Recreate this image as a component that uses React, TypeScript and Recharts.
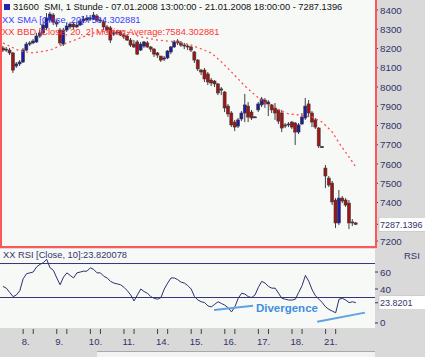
import React from 'react';
import {
  ComposedChart, Bar, Line, XAxis, YAxis, CartesianGrid, ReferenceLine, ReferenceDot,
} from 'recharts';

// SMI hourly bars, 07.01.2008 13:00 - 21.01.2008 18:00
const days = ['7.', '8.', '9.', '10.', '11.', '14.', '15.', '16.', '17.', '18.', '21.'];
const barsPerDay = [6, 10, 10, 10, 10, 10, 10, 10, 10, 10, 10];

const opens = [
  8203, 8192, 8192, 8177, 8109, 8120, 8130, 8192, 8223, 8229,
  8234, 8265, 8281, 8307, 8348, 8374, 8338, 8296, 8223, 8296,
  8312, 8327, 8312, 8322, 8343, 8348, 8353, 8353, 8369, 8348,
  8338, 8312, 8307, 8275, 8281, 8286, 8270, 8265, 8244, 8223,
  8234, 8192, 8213, 8229, 8208, 8197, 8177, 8161, 8145, 8151,
  8182, 8208, 8239, 8229, 8218, 8213, 8208, 8182, 8140, 8088,
  8088, 8068, 8036, 8031, 8016, 7984, 7974, 7901, 7865, 7818,
  7797, 7834, 7865, 7901, 7870, 7844, 7881, 7907, 7932, 7912,
  7907, 7891, 7881, 7865, 7803, 7803, 7818, 7813, 7766, 7808,
  7839, 7912, 7865, 7829, 7787, 7688, 7579, 7527, 7501, 7413,
  7294, 7423, 7413, 7397, 7299, 7294,
];
const highs = [
  8213, 8208, 8203, 8182, 8130, 8140, 8203, 8234, 8239, 8249,
  8281, 8296, 8338, 8384, 8390, 8384, 8348, 8307, 8307, 8333,
  8338, 8338, 8338, 8353, 8369, 8374, 8374, 8390, 8379, 8358,
  8348, 8322, 8317, 8296, 8296, 8296, 8281, 8275, 8255, 8244,
  8244, 8234, 8239, 8239, 8213, 8203, 8182, 8161, 8161, 8192,
  8213, 8244, 8249, 8239, 8229, 8223, 8213, 8187, 8145, 8094,
  8099, 8078, 8047, 8036, 8021, 8000, 7979, 7912, 7875, 7829,
  7839, 7875, 7964, 7922, 7881, 7849, 7922, 7948, 7943, 7932,
  7912, 7917, 7886, 7881, 7813, 7818, 7823, 7818, 7813, 7865,
  7943, 7932, 7875, 7839, 7792, 7694, 7595, 7538, 7512, 7423,
  7465, 7434, 7423, 7413, 7314, 7299,
];
const lows = [
  8182, 8182, 8166, 8073, 8099, 8109, 8125, 8187, 8213, 8223,
  8229, 8255, 8270, 8296, 8338, 8322, 8312, 8218, 8213, 8286,
  8301, 8301, 8307, 8317, 8333, 8338, 8343, 8348, 8338, 8333,
  8296, 8281, 8229, 8265, 8270, 8265, 8249, 8239, 8208, 8203,
  8166, 8187, 8203, 8203, 8182, 8156, 8151, 8130, 8135, 8145,
  8171, 8203, 8218, 8208, 8197, 8192, 8182, 8125, 8083, 8062,
  8026, 8010, 8005, 8000, 7958, 7958, 7870, 7844, 7792, 7771,
  7787, 7823, 7818, 7818, 7829, 7839, 7870, 7896, 7891, 7849,
  7865, 7829, 7808, 7766, 7787, 7792, 7782, 7699, 7756, 7803,
  7829, 7844, 7792, 7782, 7683, 7683, 7475, 7481, 7387, 7268,
  7283, 7397, 7377, 7262, 7278, 7283,
];
const closes = [
  8192, 8197, 8177, 8088, 8120, 8130, 8192, 8223, 8229, 8239,
  8265, 8281, 8322, 8358, 8379, 8338, 8327, 8229, 8296, 8317,
  8327, 8312, 8322, 8343, 8353, 8358, 8358, 8374, 8348, 8343,
  8312, 8296, 8244, 8281, 8286, 8270, 8260, 8244, 8218, 8208,
  8171, 8223, 8234, 8208, 8197, 8171, 8166, 8140, 8151, 8187,
  8208, 8234, 8229, 8218, 8213, 8208, 8192, 8140, 8094, 8078,
  8042, 8026, 8021, 8016, 7969, 7990, 7891, 7860, 7803, 7792,
  7829, 7865, 7907, 7844, 7839, 7845, 7912, 7938, 7912, 7922,
  7881, 7865, 7823, 7787, 7797, 7808, 7792, 7766, 7803, 7844,
  7901, 7865, 7818, 7792, 7694, 7690, 7538, 7491, 7403, 7294,
  7423, 7408, 7387, 7294, 7294, 7287.1396,
];
const rsi = [
  43, 41, 36, 31, 33, 38, 52, 58, 59, 60,
  66, 69, 71, 75, 65, 62, 53, 45, 54, 59,
  56, 53, 59, 60, 61, 61, 65, 63, 59, 59,
  55, 53, 49, 47, 46, 45, 42, 38, 33, 26,
  33, 40, 37, 35, 31, 29, 28, 30, 40, 47,
  53, 53, 51, 48, 47, 44, 40, 31, 27, 25,
  24, 20, 19, 22, 25, 23, 21, 18, 13, 19,
  29, 35, 34, 31, 30, 33, 42, 49, 47, 43,
  41, 41, 35, 29, 28, 27, 27, 28, 36, 44,
  56, 49, 39, 32, 28, 24, 19, 16, 14, 12,
  28, 29, 27, 24, 25, 23.820078,
];

// 20-bar moving average (BBD middle band), read at these bars
const maIdx = [0, 5, 9, 14, 19, 23, 27, 32, 36, 41, 46, 52, 56, 62, 65, 68, 72, 75, 78, 82, 85, 88, 92, 95, 98, 100, 103, 105];
const maVals = [8229, 8187, 8177, 8192, 8229, 8255, 8281, 8296, 8291, 8260, 8244, 8234, 8218, 8177, 8130, 8078, 8005, 7958, 7917, 7881, 7860, 7855, 7844, 7818, 7766, 7709, 7636, 7584.302881];

const priceTicks = [7200, 7400, 7500, 7600, 7700, 7800, 7900, 8000, 8100, 8200, 8300, 8400];
const rsiTicks = [0, 40, 60];
const rsiLevels = [70, 30];
const divergence = [
  [{ x: 62.8, y: 15.3 }, { x: 74.4, y: 20.4 }],
  [{ x: 93.5, y: 1.5 }, { x: 107.7, y: 12.2 }],
];

const lastClose = closes[closes.length - 1];
const lastRsi = rsi[rsi.length - 1];

const bars = opens.map((o, i) => ({ i, open: o, high: highs[i], low: lows[i], close: closes[i], rsi: rsi[i] }));
const maRows = maIdx.map((i, k) => ({ i, ma: maVals[k] }));

// first bar of each session; tick marks at 9:00 and 12:00
const dayStarts = barsPerDay.map((_, d) => barsPerDay.slice(0, d).reduce((a, b) => a + b, 0));
const timeTicks = dayStarts.slice(1).flatMap((s) => [s, s + 3]);
const dayLabelAt = new Map(dayStarts.map((s, d) => [s, days[d]]));

const xDomain = [-0.89, 110.7];
const font = "'Liberation Sans', Arial, sans-serif";
const navy = '#33336b';
const plotBg = '#f7f9f6';

const Candle = (props: any) => {
  const { x, y, width, height, payload } = props;
  if (!payload) return null;
  const { open, close, high, low } = payload;
  const top = height < 0 ? y + height : y;
  const h = Math.abs(height);
  const span = high - low || 1;
  const py = (v: number) => top + ((high - v) / span) * h;
  const b1 = py(Math.max(open, close));
  const b2 = py(Math.min(open, close));
  const cx = x + width / 2;
  const up = close > open;
  return (
    <g>
      <line x1={cx} x2={cx} y1={top} y2={top + h} stroke="#404040" strokeWidth={1} />
      <rect x={x} y={b1} width={width} height={Math.max(b2 - b1, 1)}
        fill={up ? '#1c1ca6' : '#a31313'} stroke="#3a3a3a" strokeWidth={0.6} />
    </g>
  );
};

const ValueBox = ({ x, y, label }: { x: number; y: number; label: string }) => (
  <g>
    <rect x={x - 1} y={y - 7} width={60} height={14} fill="#ffffff" stroke="#b8b8b8" strokeWidth={0.5} />
    <text x={x} y={y} dy={3.3} fontSize={9} fontFamily={font} fill={navy}>{label}</text>
  </g>
);

const PriceTick = (props: any) => {
  const { x, y, payload } = props;
  const v = payload.value;
  if (v === lastClose) return <ValueBox x={x} y={y} label={v.toFixed(4)} />;
  return <text x={x} y={y} dy={3.5} fontSize={9.8} fontFamily={font} fill={navy}>{v}</text>;
};

const RsiTick = (props: any) => {
  const { x, y, payload } = props;
  const v = payload.value;
  if (v === lastRsi) return <ValueBox x={x} y={y} label={v.toFixed(4)} />;
  return <text x={x} y={y} dy={3.5} fontSize={9.8} fontFamily={font} fill={navy}>{v}</text>;
};

const TimeTick = (props: any) => {
  const { x, y, payload } = props;
  const label = dayLabelAt.get(payload.value);
  return (
    <g>
      <line x1={x} x2={x} y1={y + 1} y2={y + 6} stroke="#404040" />
      {label && (
        <text x={x - 1.5} y={y + 17} fontSize={9.5} fontFamily={font} fill={navy}>{label}</text>
      )}
    </g>
  );
};

const txt = (color: string): React.CSSProperties => ({
  position: 'absolute', fontFamily: font, fontSize: 9.3, lineHeight: '11px', color, whiteSpace: 'nowrap',
});

export default function App() {
  return (
    <div style={{ position: 'absolute', left: 0, top: 0, width: 425, height: 357, overflow: 'hidden', background: '#d9d9d9' }}>
      <div style={{ position: 'absolute', left: 0, top: 0 }}>
        <ComposedChart width={425} height={247} data={bars} margin={{ top: 0, right: 0, bottom: 0, left: 0 }}>
          <CartesianGrid fill={plotBg} horizontal={false} vertical={false} />
          <XAxis type="number" dataKey="i" domain={xDomain} hide allowDataOverflow />
          <YAxis orientation="right" width={50} domain={[7169, 8452]} allowDataOverflow
            ticks={[...priceTicks, lastClose]} interval={0} tick={PriceTick}
            tickSize={3} tickMargin={2} tickLine={{ stroke: navy }} axisLine={false} />
          <Bar dataKey={(d: any) => [d.low, d.high]} barSize={3} shape={Candle} isAnimationActive={false} />
          <Line data={maRows} dataKey="ma" stroke="#ff4f4f" strokeWidth={1.3} strokeDasharray="2 3"
            dot={false} isAnimationActive={false} />
        </ComposedChart>
      </div>
      <div style={{ position: 'absolute', left: 0, top: 0, width: 377, height: 248, boxSizing: 'border-box',
        borderLeft: '2px solid #ff5757', borderRight: '2px solid #ff5757', borderBottom: '2px solid #ff5757' }} />
      <div style={{ position: 'absolute', left: 4, top: 4, width: 6, height: 6, background: '#2424a8' }} />
      <div style={{ ...txt('#111'), left: 13, top: 2 }}>
        31600&nbsp; SMI, 1 Stunde - 07.01.2008 13:00:00 - 21.01.2008 18:00:00 - 7287.1396
      </div>
      <div style={{ ...txt('#3a3aff'), left: 2, top: 15 }}>XX SMA [Close, 20]:7584.302881</div>
      <div style={{ ...txt('#ff3434'), left: 2, top: 27 }}>XX BBD [Close, 20, 2] Moving Average:7584.302881</div>

      <div style={{ position: 'absolute', left: 0, top: 249 }}>
        <ComposedChart width={425} height={99} data={bars} margin={{ top: 0, right: 0, bottom: 0, left: 0 }}>
          <CartesianGrid fill={plotBg} horizontal={false} vertical={false} />
          <XAxis type="number" dataKey="i" domain={xDomain} allowDataOverflow height={20}
            ticks={timeTicks} interval={0} tick={TimeTick} tickLine={false} axisLine={false}
            tickSize={0} tickMargin={0} />
          <YAxis orientation="right" width={50} domain={[-5.9, 87.1]} allowDataOverflow
            ticks={[...rsiTicks, lastRsi]} interval={0} tick={RsiTick}
            tickSize={3} tickMargin={2} tickLine={{ stroke: navy }} axisLine={false} />
          {rsiLevels.map((v) => (
            <ReferenceLine key={v} y={v} stroke="#35357a" strokeWidth={1} />
          ))}
          <Line dataKey="rsi" stroke="#2e2e70" strokeWidth={1} dot={false} isAnimationActive={false} />
          {divergence.map((seg, k) => (
            <ReferenceLine key={k} segment={seg} stroke="#5ea2e2" strokeWidth={2} />
          ))}
          <ReferenceDot x={84.5} y={17.6} r={1} fill="none" stroke="none"
            label={{ value: 'Divergence', position: 'center', fill: '#3f8fdf', fontSize: 11.5, fontWeight: 'bold', fontFamily: font }} />
        </ComposedChart>
      </div>
      <div style={{ ...txt(navy), left: 3, top: 250 }}>XX RSI [Close, 10]:23.820078</div>
      <div style={{ ...txt(navy), left: 404, top: 250, fontSize: 9.5 }}>RSI</div>
      <div style={{ position: 'absolute', left: 97, top: 351, width: 278, height: 6, background: '#f3f3f3', borderTop: '1px solid #a8a8a8' }} />
    </div>
  );
}
